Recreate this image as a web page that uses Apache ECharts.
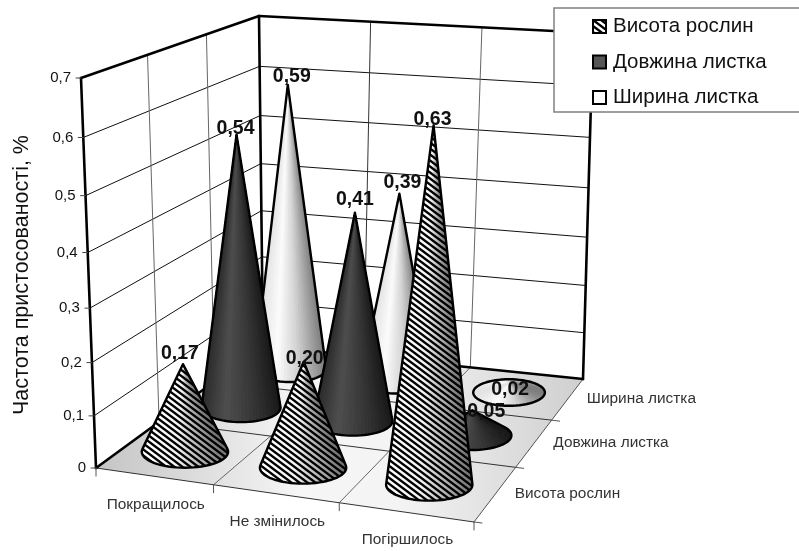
<!DOCTYPE html>
<html><head><meta charset="utf-8">
<style>html,body{margin:0;padding:0;background:#fff}#c{width:799px;height:551px}</style>
<script src="https://cdn.jsdelivr.net/npm/echarts@6/dist/echarts.min.js"></script>
</head><body><div id="c"></div>
<script>
// ---- data ----
const categories = ['Покращилось', 'Не змінилось', 'Погіршилось'];
const depthNames = ['Висота рослин', 'Довжина листка', 'Ширина листка'];
const heightValues = [0.17, 0.20, 0.63];
const lengthValues = [0.54, 0.41, 0.05];
const widthValues  = [0.59, 0.39, 0.02];
const valueTicks = [0, 0.1, 0.2, 0.3, 0.4, 0.5, 0.6, 0.7];
const valueLabels = ['0', '0,1', '0,2', '0,3', '0,4', '0,5', '0,6', '0,7'];
const axisTitle = 'Частота пристосованості, %';

// ---- 3D frame layout (screen corners of the box: front-left, front-right, back-right, back-left) ----
const FLOOR = [[96,468],[474,522],[583,379],[263,346]];
const TOP   = [[81,78],[480,98],[593,33],[259,16]];
const PERSP = 1.08;
const APEX_SKEW = -3.5;
const GRID = {left:0, top:0, width:300, height:300};
const FONT = '"Liberation Sans", Arial, sans-serif';

function makeH(q){
  const [p0,p1,p2,p3]=q;
  const dx1=p1[0]-p2[0],dx2=p3[0]-p2[0],sx=p0[0]-p1[0]+p2[0]-p3[0];
  const dy1=p1[1]-p2[1],dy2=p3[1]-p2[1],sy=p0[1]-p1[1]+p2[1]-p3[1];
  const det=dx1*dy2-dx2*dy1;
  const g=(sx*dy2-dx2*sy)/det,h=(dx1*sy-sx*dy1)/det;
  const a=p1[0]-p0[0]+g*p1[0],b=p3[0]-p0[0]+h*p3[0],c=p0[0];
  const d=p1[1]-p0[1]+g*p1[1],e=p3[1]-p0[1]+h*p3[1],f=p0[1];
  return (u,v)=>{const w=g*u+h*v+1;return [(a*u+b*v+c)/w,(d*u+e*v+f)/w];};
}
const Hf=makeH(FLOOR),Ht=makeH(TOP);
function proj(u,v,t){
  const s=t/(t+(1-t)*PERSP),a=Hf(u,v),b=Ht(u,v);
  return [a[0]+(b[0]-a[0])*s,a[1]+(b[1]-a[1])*s];
}
function apexOf(u,v,t){const p=proj(u,v,t);return [p[0]+APEX_SKEW*t,p[1]];}
// library scales -> normalised box coordinates
function norm(api,cat,val){
  const p=api.coord([cat,val]);
  return {u:(p[0]-GRID.left)/GRID.width,t:1-(p[1]-GRID.top)/GRID.height};
}

// ---- styles ----
function tile(bg){
  const w=8,h=6,c=document.createElement('canvas');c.width=w;c.height=h;
  const x=c.getContext('2d');
  if(bg){x.fillStyle=bg;x.fillRect(0,0,w,h);}
  x.strokeStyle='#000';x.lineWidth=2.3;
  for(let i=-1;i<=1;i++){x.beginPath();x.moveTo(i*w-w,-h);x.lineTo(i*w+2*w,2*h);x.stroke();}
  return c;
}
const hatch={image:tile(null),repeat:'repeat'};
const hatchLegend={image:tile('#fff'),repeat:'repeat'};
const SHADES=[
  [[0,255],[.4,242],[.7,175],[1,110]],
  [[0,44],[.3,78],[.7,50],[1,24]],
  [[0,228],[.3,252],[.6,210],[1,125]]
];
function shade(stops,x){
  for(let i=1;i<stops.length;i++){
    if(x<=stops[i][0]){
      const a=stops[i-1],b=stops[i],g=Math.round(a[1]+(b[1]-a[1])*(x-a[0])/(b[0]-a[0]));
      return 'rgb('+g+','+g+','+g+')';
    }
  }
  return 'rgb('+stops[stops.length-1][1]+','+stops[stops.length-1][1]+','+stops[stops.length-1][1]+')';
}
function hull(pts){
  const P=pts.slice().sort((a,b)=>a[0]-b[0]||a[1]-b[1]);
  const cr=(o,a,b)=>(a[0]-o[0])*(b[1]-o[1])-(a[1]-o[1])*(b[0]-o[0]);
  const lo=[],up=[];
  for(const p of P){while(lo.length>1&&cr(lo[lo.length-2],lo[lo.length-1],p)<=0)lo.pop();lo.push(p);}
  for(const p of P.slice().reverse()){while(up.length>1&&cr(up[up.length-2],up[up.length-1],p)<=0)up.pop();up.push(p);}
  return lo.slice(0,-1).concat(up.slice(0,-1));
}
function coneItem(depth){
  return function(params,api){
    const n=norm(api,api.value(0),api.value(1));
    const v=(depth+.5)/3;
    const c=proj(n.u,v,0),apex=apexOf(n.u,v,n.t);
    const rx=45-11*v,ry=rx*.37,N=64,ell=[];
    for(let i=0;i<N;i++){const a=i/N*2*Math.PI;ell.push([c[0]+rx*Math.cos(a),c[1]+ry*Math.sin(a)]);}
    const kids=[];
    const order=[];
    for(let i=N/2;i<N;i++)order.push(i);   // back arc first
    for(let i=0;i<N/2;i++)order.push(i);   // then front arc
    for(const i of order){
      const a=ell[i],b=ell[(i+1)%N];
      const col=shade(SHADES[depth],((a[0]+b[0])/2-(c[0]-rx))/(2*rx));
      kids.push({type:'polygon',shape:{points:[apex,a,b]},style:{fill:col,stroke:col,lineWidth:1}});
    }
    const sil=hull(ell.concat([apex]));
    if(depth===0)kids.push({type:'polygon',shape:{points:sil},style:{fill:hatch,stroke:'none'}});
    kids.push({type:'polygon',shape:{points:sil},style:{fill:'none',stroke:'#000',lineWidth:2.4,lineJoin:'round'}});
    return {type:'group',children:kids};
  };
}
function line(a,b,stroke,w){
  return {type:'line',shape:{x1:a[0],y1:a[1],x2:b[0],y2:b[1]},style:{stroke:stroke,lineWidth:w,lineCap:'round'}};
}
function txt(s,x,y,font,fill,align){
  return {type:'text',style:{text:s,x:x,y:y,font:font,fill:fill,align:align,verticalAlign:'middle'}};
}
function frameItem(params,api){
  const k=[];
  const thin='#111',gray='#666';
  const tval=t=>norm(api,0,t).t;
  // walls
  k.push({type:'polygon',shape:{points:[proj(0,0,0),proj(0,1,0),proj(0,1,1),proj(0,0,1)]},style:{fill:'#fff'}});
  k.push({type:'polygon',shape:{points:[proj(0,1,0),proj(1,1,0),proj(1,1,1),proj(0,1,1)]},style:{fill:'#fff'}});
  // floor
  k.push({type:'polygon',shape:{points:FLOOR},style:{fill:{type:'linear',x:0,y:0,x2:1,y2:0,colorStops:[
    {offset:0,color:'#c4c4c4'},{offset:.42,color:'#f6f6f6'},{offset:.62,color:'#f4f4f4'},{offset:1,color:'#cfcfcf'}]}}});
  // wall gridlines
  valueTicks.forEach(tv=>{
    const t=tval(tv);
    if(tv>0&&tv<.7){
      k.push(line(proj(0,0,t),proj(0,1,t),thin,1));
      k.push(line(proj(0,1,t),proj(1,1,t),thin,1));
    }
  });
  [1/3,2/3].forEach((f,i)=>{
    k.push(line(proj(0,f,0),proj(0,f,1),gray,1));
    k.push(line(proj(f,1,0),proj(f,1,1),i===0?'#333':gray,1));
    k.push(line(proj(f,0,0),proj(f,1,0),gray,1));
    k.push(line(proj(0,f,0),proj(1,f,0),'#333',1));
  });
  // floor front & right edges
  k.push(line(FLOOR[0],FLOOR[1],'#333',1));
  k.push(line(FLOOR[1],FLOOR[2],'#555',1));
  // heavy frame
  const H=2.6;
  k.push(line(FLOOR[0],TOP[0],'#000',H));
  k.push(line(TOP[0],TOP[3],'#000',H));
  k.push(line(TOP[3],FLOOR[3],'#000',H));
  k.push(line(TOP[3],TOP[2],'#000',H));
  k.push(line(TOP[2],FLOOR[2],'#000',H));
  k.push(line(FLOOR[3],FLOOR[2],'#000',H));
  k.push(line(FLOOR[0],FLOOR[3],'#000',H));
  // value ticks & labels
  valueTicks.forEach((tv,i)=>{
    const p=proj(0,0,tval(tv));
    k.push(line([p[0]-5,p[1]],p,'#444',1));
    k.push(txt(valueLabels[i],p[0]-10,p[1],'15px '+FONT,'#111','right'));
  });
  // category ticks and labels
  [0,1/3,2/3,1].forEach(f=>{const p=Hf(f,0);k.push(line(p,[p[0],p[1]+8],'#555',1));});
  categories.forEach((s,i)=>{
    const p=Hf((i+.5)/3,0);
    k.push(txt(s,p[0]+2,p[1]+28,'15.4px '+FONT,'#333','center'));
  });
  // depth ticks and labels
  [0,1/3,2/3].forEach(f=>{const p=Hf(1,f);k.push(line(p,[p[0]+8,p[1]+1],'#555',1));});
  depthNames.forEach((s,i)=>{
    const p=Hf(1,(i+.5)/3);
    k.push(txt(s,p[0]+19,p[1],'15.4px '+FONT,'#333','left'));
  });
  // axis title
  k.push({type:'text',x:22,y:275,rotation:Math.PI/2,style:{text:axisTitle,x:0,y:0,font:'21.5px '+FONT,fill:'#111',align:'center',verticalAlign:'middle'}});
  return {type:'group',children:k};
}
// small placement corrections for the value labels, by [depth, category]
const labelNudge={'0,0':[-3,-11],'0,1':[1,-3],'0,2':[-1,-6],'1,0':[-1,-6],'1,1':[0,-13],'1,2':[14,1],'2,0':[4,-8],'2,1':[3,-11],'2,2':[1,6]};
function labelItem(params,api){
  const cat=api.value(0),val=api.value(1),depth=api.value(2);
  const n=norm(api,cat,val),v=(depth+.5)/3,a=apexOf(n.u,v,n.t);
  const d=labelNudge[depth+','+cat];
  return txt(val.toFixed(2).replace('.',','),a[0]+d[0],a[1]+d[1],'bold 19.5px '+FONT,'#111','center');
}
const valueRows=[heightValues,lengthValues,widthValues];
const labelData=[];
valueRows.forEach((r,d)=>r.forEach((val,c)=>labelData.push([c,val,d])));

const chart=echarts.init(document.getElementById('c'),null,{width:799,height:551});
chart.setOption({
  animation:false,
  backgroundColor:'#fff',
  grid:Object.assign({show:false,containLabel:false},GRID),
  xAxis:{type:'category',data:categories,show:false},
  yAxis:{type:'value',min:0,max:0.7,interval:0.1,show:false},
  legend:{
    orient:'vertical',left:554,top:8,z:10,
    backgroundColor:'#fff',borderColor:'#808080',borderWidth:1.5,borderRadius:0,
    padding:[8,34,4,38],itemWidth:13,itemHeight:13,itemGap:14.5,selectedMode:false,
    textStyle:{fontFamily:FONT,fontSize:20.5,color:'#111',padding:[0,0,0,2]},
    data:[
      {name:depthNames[0],icon:'rect',itemStyle:{color:hatchLegend,borderColor:'#000',borderWidth:2}},
      {name:depthNames[1],icon:'rect',itemStyle:{color:'#555',borderColor:'#000',borderWidth:2}},
      {name:depthNames[2],icon:'rect',itemStyle:{color:'#fff',borderColor:'#000',borderWidth:2}}
    ]
  },
  tooltip:{show:false},
  series:[
    {type:'custom',name:'frame',z:1,silent:true,renderItem:frameItem,data:[[0,0]],encode:{x:0,y:1}},
    {type:'custom',name:depthNames[2],z:2,renderItem:coneItem(2),encode:{x:0,y:1},data:widthValues.map((v,i)=>[i,v])},
    {type:'custom',name:depthNames[1],z:3,renderItem:coneItem(1),encode:{x:0,y:1},data:lengthValues.map((v,i)=>[i,v])},
    {type:'custom',name:depthNames[0],z:4,renderItem:coneItem(0),encode:{x:0,y:1},data:heightValues.map((v,i)=>[i,v])},
    {type:'custom',name:'labels',z:5,renderItem:labelItem,encode:{x:0,y:1},data:labelData}
  ]
});
</script></body></html>
